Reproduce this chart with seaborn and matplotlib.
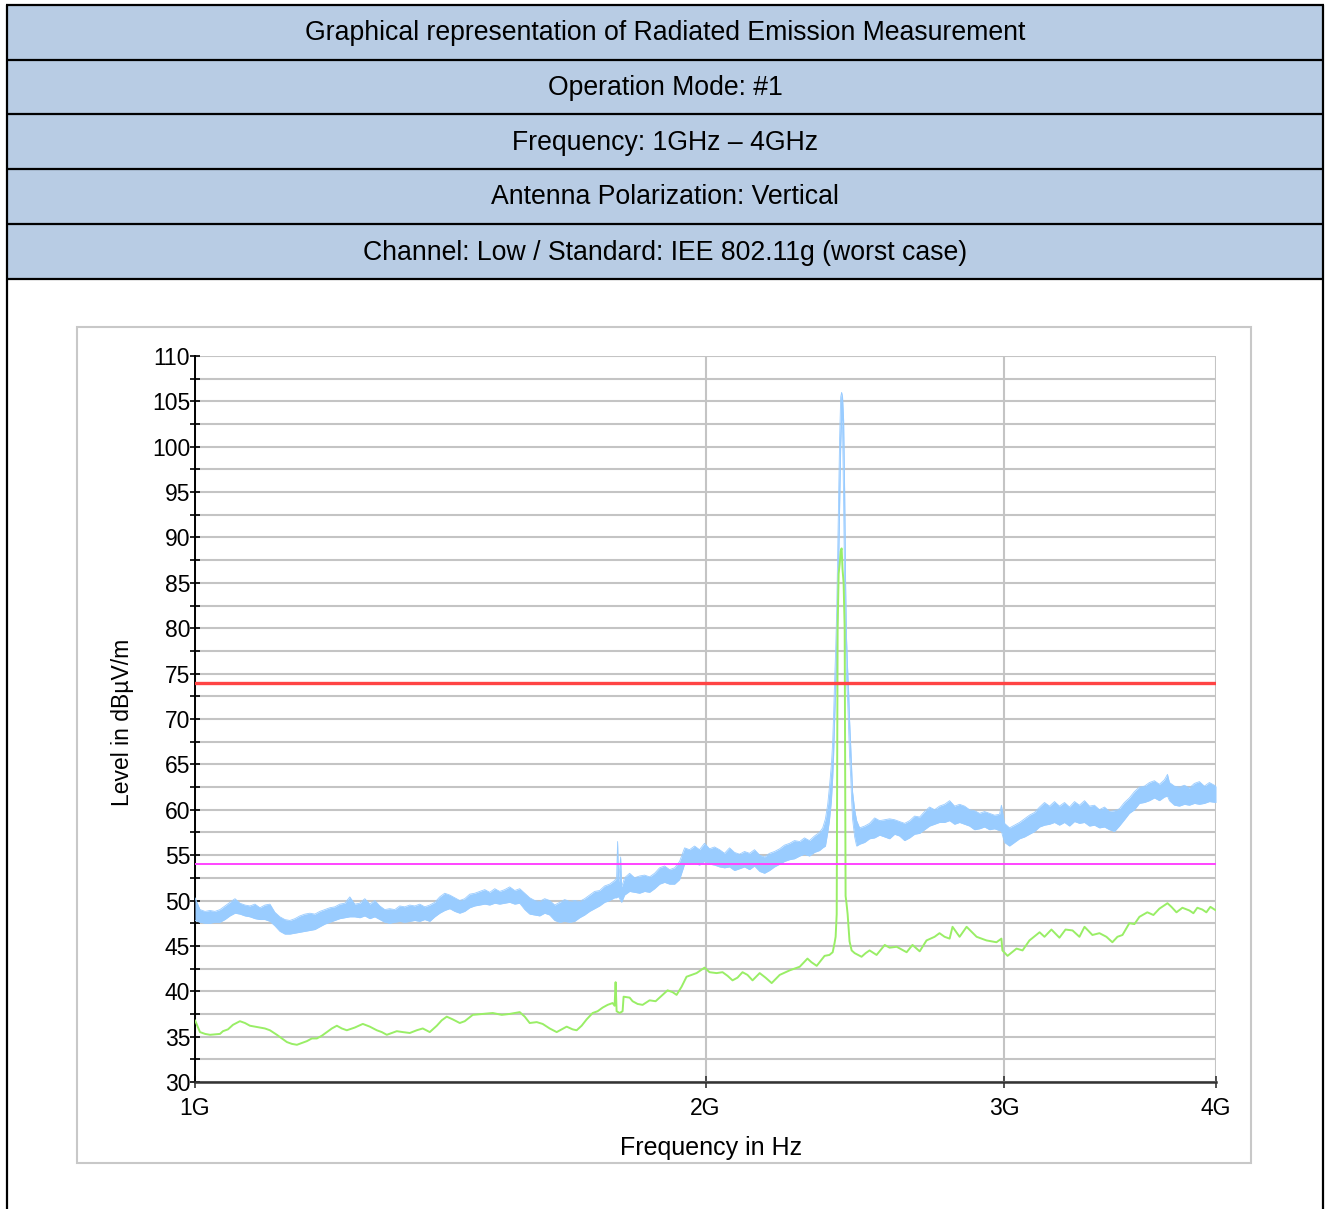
import matplotlib
matplotlib.use("Agg")
import matplotlib.pyplot as plt
import seaborn as sns
import pandas as pd
from matplotlib.patches import Rectangle
from matplotlib.ticker import FixedLocator, NullLocator

# ---------------------------------------------------------------- data
header_rows = [
    "Graphical representation of Radiated Emission Measurement",
    "Operation Mode: #1",
    "Frequency: 1GHz \u2013 4GHz",
    "Antenna Polarization: Vertical",
    "Channel: Low / Standard: IEE 802.11g (worst case)",
]

x_tick_values = [1000, 2000, 3000, 4000]          # MHz
x_tick_labels = ["1G", "2G", "3G", "4G"]

limit_peak = 74.0      # dBµV/m
limit_avg = 54.0       # dBµV/m

# Peak detector trace, given as lower / upper edge of the sweep band (MHz, dBµV/m)
peak_freq = [
    1000, 1006.8, 1013.7, 1020.6, 1027.5, 1034.5, 1041.5, 1048.6, 1055.8, 1062.9,
    1070.2, 1077.5, 1084.8, 1092.2, 1099.6, 1107.1, 1114.6, 1122.2, 1129.8, 1137.5,
    1145.3, 1153.0, 1160.9, 1168.8, 1176.7, 1184.7, 1192.8, 1200.9, 1209.1, 1217.3,
    1225.6, 1233.9, 1242.3, 1250.8, 1259.3, 1267.9, 1276.5, 1285.2, 1293.9, 1302.7,
    1311.6, 1320.5, 1329.5, 1338.6, 1347.7, 1356.8, 1366.1, 1375.4, 1384.8, 1394.2,
    1403.7, 1413.3, 1422.9, 1432.6, 1442.3, 1452.2, 1462.1, 1472.0, 1482.0, 1492.1,
    1502.3, 1512.5, 1522.8, 1533.1, 1543.6, 1554.1, 1564.7, 1575.3, 1586.1, 1596.8,
    1607.7, 1618.6, 1629.7, 1640.8, 1651.9, 1663.2, 1674.5, 1685.9, 1697.3, 1708.9,
    1720.5, 1732.2, 1744.0, 1755.9, 1767.8, 1772.6, 1775.0, 1777.4, 1782.3, 1784.7,
    1792.0, 1804.2, 1816.4, 1828.8, 1841.2, 1853.8, 1866.5, 1879.2, 1891.9, 1904.8,
    1917.8, 1930.8, 1944.0, 1957.2, 1970.5, 1983.9, 1997.4, 2011.0, 2024.7, 2038.5,
    2052.4, 2066.4, 2080.4, 2094.6, 2108.8, 2123.2, 2137.6, 2152.7, 2166.8, 2181.6,
    2196.4, 2212.0, 2226.4, 2242.0, 2256.8, 2273.0, 2287.6, 2303.2, 2318.8, 2334.6,
    2345.0, 2353.7, 2361.0, 2366.5, 2372.9, 2377.0, 2380.0, 2383.0, 2386.5, 2390.0,
    2393.0, 2396.3, 2399.5, 2403.0, 2406.0, 2409.0, 2412.5, 2416.0, 2419.0, 2422.0,
    2425.7, 2429.0, 2432.0, 2436.0, 2439.0, 2442.0, 2449.0, 2455.6, 2465.6, 2482.4,
    2499.0, 2516.3, 2533.5, 2551.0, 2568.0, 2585.5, 2603.1, 2620.8, 2639.0, 2656.6,
    2675.0, 2692.9, 2711.2, 2729.7, 2748.0, 2767.0, 2786.0, 2804.8, 2824.0, 2843.1,
    2862.4, 2881.9, 2901.5, 2921.3, 2941.2, 2961.2, 2981.4, 2989.0, 3001.7, 3022.0,
    3042.7, 3063.4, 3084.3, 3105.0, 3126.4, 3148.0, 3169.1, 3190.7, 3212.4, 3234.0,
    3256.3, 3278.5, 3300.8, 3323.0, 3346.0, 3368.6, 3391.5, 3414.6, 3437.8, 3461.2,
    3484.8, 3508.0, 3532.4, 3556.0, 3580.7, 3605.0, 3629.6, 3654.3, 3679.2, 3704.0,
    3729.4, 3745.0, 3755.0, 3780.4, 3806.1, 3832.0, 3858.0, 3884.4, 3910.8, 3937.4,
    3964.2, 4000.0,
]
peak_lo = [
    47.8, 47.6, 47.5, 47.5, 47.6, 47.6, 47.9, 48.3, 48.6, 48.5,
    48.3, 48.2, 48.0, 47.9, 47.9, 47.7, 47.2, 46.6, 46.3, 46.3,
    46.4, 46.5, 46.6, 46.7, 46.8, 47.1, 47.4, 47.6, 47.8, 48.0,
    48.1, 48.2, 48.2, 48.1, 48.3, 48.0, 48.2, 47.9, 47.6, 47.5,
    47.6, 47.7, 47.6, 47.7, 47.8, 47.7, 47.9, 47.7, 48.2, 48.6,
    48.9, 49.1, 48.8, 48.6, 48.8, 49.2, 49.4, 49.5, 49.6, 49.5,
    49.7, 49.6, 49.7, 49.8, 49.6, 49.7, 49.0, 48.5, 48.4, 48.3,
    48.6, 48.4, 47.8, 47.6, 47.7, 47.6, 47.7, 48.1, 48.4, 48.8,
    49.1, 49.4, 49.8, 50.0, 50.3, 50.3, 50.4, 50.4, 50.0, 49.8,
    50.6, 51.0, 50.9, 50.8, 51.0, 50.9, 51.3, 51.8, 52.0, 51.8,
    51.8, 52.3, 54.0, 54.0, 54.1, 53.9, 54.3, 54.0, 53.9, 53.7,
    53.6, 53.7, 53.3, 53.5, 53.7, 53.4, 53.8, 53.2, 53.0, 53.3,
    53.7, 54.0, 54.3, 54.5, 54.6, 54.9, 55.1, 54.9, 55.3, 55.5,
    55.8, 56.0, 57.5, 58.8, 61.0, 63.5, 66.0, 69.5, 73.0, 76.5,
    80.5, 87.0, 93.5, 100.0, 103.0, 102.0, 94.0, 84.0, 78.0, 74.5,
    72.0, 69.0, 66.0, 63.5, 61.0, 59.0, 57.0, 56.0, 56.2, 56.4,
    56.8, 56.9, 57.2, 57.0, 56.8, 57.3, 57.1, 56.6, 56.9, 57.3,
    57.4, 57.8, 58.2, 58.4, 58.6, 58.6, 58.8, 58.4, 58.6, 58.4,
    58.2, 57.8, 57.9, 58.1, 57.8, 57.9, 57.7, 57.6, 56.4, 56.0,
    56.4, 56.8, 57.0, 57.3, 57.6, 58.1, 58.3, 58.4, 58.6, 58.3,
    58.6, 58.2, 58.7, 58.5, 58.6, 58.2, 58.3, 58.0, 58.1, 57.8,
    57.6, 58.2, 58.9, 59.6, 60.0, 60.7, 60.8, 61.0, 61.3, 61.0,
    61.4, 61.5, 61.0, 60.5, 60.4, 60.6, 60.5, 60.7, 60.6, 60.7,
    60.9, 60.8,
]
peak_hi = [
    50.3, 49.0, 48.8, 48.9, 48.8, 49.0, 49.4, 49.8, 50.2, 49.7,
    49.5, 49.4, 49.6, 49.2, 49.5, 49.6, 48.7, 48.2, 47.9, 47.8,
    48.0, 48.3, 48.5, 48.6, 48.5, 48.8, 49.0, 49.2, 49.3, 49.6,
    49.7, 50.4, 49.6, 49.7, 50.2, 49.6, 50.0, 49.4, 49.0, 49.1,
    49.0, 49.4, 49.3, 49.5, 49.4, 49.6, 49.3, 49.5, 49.8, 50.4,
    50.8, 50.6, 50.3, 50.0, 50.2, 50.7, 50.8, 51.0, 51.2, 50.9,
    51.3, 51.0, 51.2, 51.5, 51.1, 51.3, 50.8, 50.3, 50.0, 49.9,
    50.2, 50.0, 49.5, 49.8, 50.1, 49.9, 50.0, 49.9, 50.2, 50.6,
    51.0, 51.1, 51.6, 51.8, 52.2, 52.5, 56.5, 52.0, 54.8, 51.5,
    52.5, 53.0, 52.5, 52.7, 52.8, 52.6, 53.0, 53.6, 53.8, 53.4,
    53.6, 54.3, 55.8, 55.6, 56.0, 55.6, 56.3, 55.7, 55.9, 55.6,
    55.2, 55.8, 55.3, 55.1, 55.4, 55.2, 55.6, 55.0, 54.8, 55.2,
    55.4, 55.7, 56.1, 56.3, 56.6, 56.5, 56.9, 56.6, 57.1, 57.5,
    58.0, 59.0, 60.6, 62.5, 65.0, 67.5, 70.5, 74.0, 77.5, 82.0,
    88.0, 95.0, 101.0, 105.5, 106.0, 105.5, 103.0, 95.0, 85.0, 79.0,
    75.5, 73.0, 70.0, 67.0, 64.5, 62.0, 60.0, 58.8, 58.0, 58.2,
    58.5, 59.1, 58.8, 58.9, 59.0, 58.9, 58.7, 58.5, 58.8, 59.3,
    59.2, 59.8, 60.3, 60.0, 60.4, 60.6, 61.0, 60.4, 60.6, 60.4,
    60.0, 59.9, 59.6, 59.8, 59.6, 59.4, 59.5, 60.5, 58.5, 58.0,
    58.3, 58.6, 59.0, 59.4, 59.7, 60.3, 60.8, 60.4, 60.9, 60.4,
    60.8, 60.3, 60.9, 60.5, 61.0, 60.4, 60.5, 60.0, 60.3, 59.8,
    59.9, 60.1, 60.8, 61.3, 62.0, 62.5, 62.6, 63.0, 63.2, 62.8,
    63.3, 63.9, 63.0, 62.6, 62.5, 62.7, 62.4, 62.9, 63.1, 62.6,
    63.0, 62.6,
]

# Average detector trace (MHz, dBµV/m)
avg_freq = [
    1000, 1006.8, 1013.7, 1020.6, 1034.5, 1038.7, 1045.8, 1052.9, 1062.9, 1070.2,
    1077.5, 1084.8, 1092.2, 1099.6, 1107.1, 1117.6, 1125.2, 1132.9, 1140.6, 1148.4,
    1156.2, 1164.0, 1172.0, 1179.9, 1188.0, 1196.0, 1204.2, 1212.4, 1220.6, 1228.9,
    1242.3, 1255.9, 1267.9, 1280.0, 1288.7, 1297.5, 1306.3, 1315.2, 1325.9, 1338.6,
    1351.3, 1362.4, 1375.4, 1388.6, 1398.0, 1407.5, 1419.0, 1432.6, 1442.3, 1458.1,
    1478.0, 1498.2, 1516.6, 1533.1, 1554.1, 1564.7, 1575.3, 1590.4, 1603.3, 1618.6,
    1634.1, 1645.2, 1656.4, 1669.9, 1679.0, 1690.4, 1701.9, 1715.8, 1727.5, 1739.3,
    1751.1, 1763.0, 1767.8, 1770.2, 1772.6, 1779.8, 1787.1, 1789.5, 1804.2, 1811.5,
    1823.9, 1836.3, 1853.8, 1869.0, 1879.2, 1899.6, 1912.6, 1923.0, 1936.1, 1949.2,
    1962.5, 1975.9, 1997.4, 2011.0, 2030.2, 2046.8, 2060.8, 2074.8, 2088.9, 2103.1,
    2117.4, 2131.9, 2152.7, 2169.8, 2188.0, 2212.0, 2242.0, 2273.0, 2297.0, 2309.4,
    2326.0, 2351.0, 2366.5, 2377.0, 2383.0, 2386.5, 2390.0, 2393.0, 2396.3, 2399.5,
    2403.0, 2406.0, 2409.0, 2412.5, 2416.0, 2419.0, 2422.0, 2425.7, 2432.0, 2439.0,
    2449.0, 2472.0, 2485.8, 2499.0, 2523.0, 2551.0, 2568.0, 2593.0, 2628.0, 2649.0,
    2675.0, 2700.0, 2729.7, 2748.0, 2767.0, 2786.0, 2797.0, 2824.0, 2851.0, 2890.0,
    2929.0, 2969.0, 2989.0, 2993.0, 3014.0, 3051.0, 3076.0, 3105.0, 3148.0, 3169.0,
    3199.0, 3234.0, 3260.8, 3292.0, 3323.0, 3346.0, 3382.0, 3414.6, 3447.0, 3475.0,
    3499.0, 3523.0, 3556.0, 3580.7, 3605.0, 3644.0, 3674.2, 3704.0, 3745.0, 3765.0,
    3791.0, 3821.6, 3858.0, 3879.1, 3900.0, 3926.7, 3948.0, 3969.6, 4000.0,
]
avg_level = [
    36.8, 35.5, 35.3, 35.2, 35.3, 35.6, 35.8, 36.3, 36.7, 36.5,
    36.2, 36.1, 36.0, 35.9, 35.7, 35.2, 34.8, 34.4, 34.2, 34.1,
    34.3, 34.5, 34.8, 34.8, 35.1, 35.5, 35.9, 36.2, 35.9, 35.7,
    36.0, 36.4, 36.1, 35.7, 35.5, 35.2, 35.4, 35.6, 35.5, 35.4,
    35.7, 35.9, 35.5, 36.2, 36.8, 37.2, 36.9, 36.5, 36.7, 37.4,
    37.5, 37.6, 37.4, 37.5, 37.7, 37.2, 36.5, 36.6, 36.4, 35.9,
    35.5, 35.8, 36.1, 35.8, 35.7, 36.2, 36.9, 37.6, 37.8, 38.2,
    38.5, 38.7, 38.4, 41.0, 37.8, 37.6, 37.8, 39.4, 39.3, 38.9,
    38.6, 38.5, 39.0, 38.9, 39.3, 40.1, 39.9, 39.6, 40.5, 41.6,
    41.8, 42.0, 42.6, 42.1, 42.0, 42.1, 41.7, 41.2, 41.5, 42.1,
    41.8, 41.2, 42.0, 41.5, 40.9, 41.8, 42.3, 42.7, 43.6, 43.2,
    42.8, 43.9, 44.0, 44.3, 45.3, 46.0, 48.5, 80.0, 86.0, 87.0,
    88.5, 88.8, 86.5, 85.0, 80.0, 50.5, 49.7, 48.5, 45.5, 44.5,
    44.2, 43.8, 44.2, 44.5, 44.0, 45.1, 44.8, 44.9, 44.3, 45.1,
    44.4, 45.6, 46.0, 46.4, 46.0, 45.8, 47.1, 46.0, 47.1, 46.0,
    45.6, 45.4, 45.8, 44.5, 43.9, 44.7, 44.5, 45.6, 46.5, 46.0,
    46.8, 45.9, 46.8, 46.7, 46.0, 47.1, 46.2, 46.4, 46.0, 45.4,
    46.0, 46.2, 47.5, 47.4, 48.2, 48.7, 48.4, 49.1, 49.7, 49.3,
    48.7, 49.2, 48.9, 48.6, 49.2, 49.0, 48.7, 49.3, 48.9,
]

peak_df = pd.DataFrame({"freq": peak_freq, "lo": peak_lo, "hi": peak_hi})
avg_df = pd.DataFrame({"freq": avg_freq, "level": avg_level})
limit_df = pd.DataFrame({
    "freq": [x_tick_values[0], x_tick_values[-1]] * 2,
    "level": [limit_peak, limit_peak, limit_avg, limit_avg],
    "limit": ["peak", "peak", "avg", "avg"],
})

# ---------------------------------------------------------------- styling
sns.set_theme(style="white")
plt.rcParams["font.family"] = ["Liberation Sans", "DejaVu Sans"]

W, H = 1327, 1209
fig = plt.figure(figsize=(W / 100, H / 100), dpi=100)
fig.patch.set_facecolor("white")

# page-level layer in pixel units: header table and chart frame
page = fig.add_axes([0, 0, 1, 1])
page.set_xlim(0, W)
page.set_ylim(H, 0)
page.axis("off")

row_edges = [5, 60, 114, 169, 224, 279]
tbl_left, tbl_right = 7, 1323
for i, txt in enumerate(header_rows):
    top, bot = row_edges[i], row_edges[i + 1]
    page.add_patch(Rectangle((tbl_left, top), tbl_right - tbl_left, bot - top,
                             facecolor="#b8cce4", edgecolor="none", zorder=1))
    page.text((tbl_left + tbl_right) / 2, (top + bot) / 2 + 1, txt,
              ha="center", va="center", fontsize=19.2, color="black", zorder=3)
for yy in row_edges:
    page.plot([tbl_left - 1, tbl_right + 1], [yy, yy], color="black", lw=1.6,
              solid_capstyle="butt", zorder=2)
for xx in (tbl_left, tbl_right):
    page.plot([xx, xx], [row_edges[0], H], color="black", lw=1.6, zorder=2)

page.add_patch(Rectangle((77, 327), 1174, 836, facecolor="white",
                         edgecolor="#c8c8c8", lw=1.5, zorder=1))

# ---------------------------------------------------------------- chart
ax = fig.add_axes([195 / W, (H - 1082) / H, 1021 / W, 726 / H])
ax.set_facecolor("white")
ax.set_xscale("log")

blue = "#99ccff"
green = "#99ee66"

ax.fill_between(peak_df["freq"], peak_df["lo"], peak_df["hi"], color=blue,
                lw=0, zorder=3)
sns.lineplot(data=peak_df, x="freq", y="lo", color=blue, lw=0.6,
             estimator=None, sort=False, ax=ax, zorder=3)
sns.lineplot(data=peak_df, x="freq", y="hi", color=blue, lw=0.6,
             estimator=None, sort=False, ax=ax, zorder=3)
sns.lineplot(data=avg_df, x="freq", y="level", color=green, lw=1.4,
             estimator=None, sort=False, ax=ax, zorder=4)
sns.lineplot(data=limit_df, x="freq", y="level", hue="limit",
             palette={"peak": "#ff4444", "avg": "#ff44ff"},
             size="limit", sizes={"peak": 2.4, "avg": 1.4},
             estimator=None, legend=False, ax=ax, zorder=5)

ax.set_xlim(x_tick_values[0], x_tick_values[-1])
ax.set_ylim(30, 110)

ax.xaxis.set_major_locator(FixedLocator(x_tick_values))
ax.set_xticklabels(x_tick_labels)
ax.xaxis.set_minor_locator(NullLocator())
ax.yaxis.set_major_locator(FixedLocator(list(range(30, 111, 5))))
ax.yaxis.set_minor_locator(FixedLocator([v + 2.5 for v in range(30, 110, 5)]))

ax.grid(axis="y", which="both", color="#c4c4c4", lw=1.5, zorder=0)
ax.grid(axis="x", which="major", color="#c4c4c4", lw=1.5, zorder=0)
ax.set_axisbelow(True)

for side in ("top", "right"):
    ax.spines[side].set_visible(False)
ax.spines["left"].set_color("black")
ax.spines["left"].set_linewidth(1.4)
ax.spines["bottom"].set_color("#333333")
ax.spines["bottom"].set_linewidth(1.8)

ax.tick_params(axis="y", which="both", direction="inout", length=7,
               width=1.2, color="black", labelsize=16.5, pad=0,
               labelcolor="black", left=True)
ax.tick_params(axis="x", which="major", direction="inout", length=8,
               width=1.2, color="#333333", labelsize=16.5, pad=7,
               labelcolor="black", bottom=True)

ax.set_xlabel("Frequency in Hz", fontsize=18, color="black")
ax.set_ylabel("Level in dB\u00b5V/m", fontsize=16.5, color="black")
ax.xaxis.set_label_coords(0.5 + 6 / 1021, -66 / 726)
ax.xaxis.label.set_va("center")
ax.yaxis.set_label_coords(-73 / 1021, 360 / 726)
ax.yaxis.label.set_va("center")
ax.yaxis.label.set_ha("center")
ax.yaxis.label.set_rotation_mode("default")

fig.savefig("out.png", dpi=100, facecolor="white")
